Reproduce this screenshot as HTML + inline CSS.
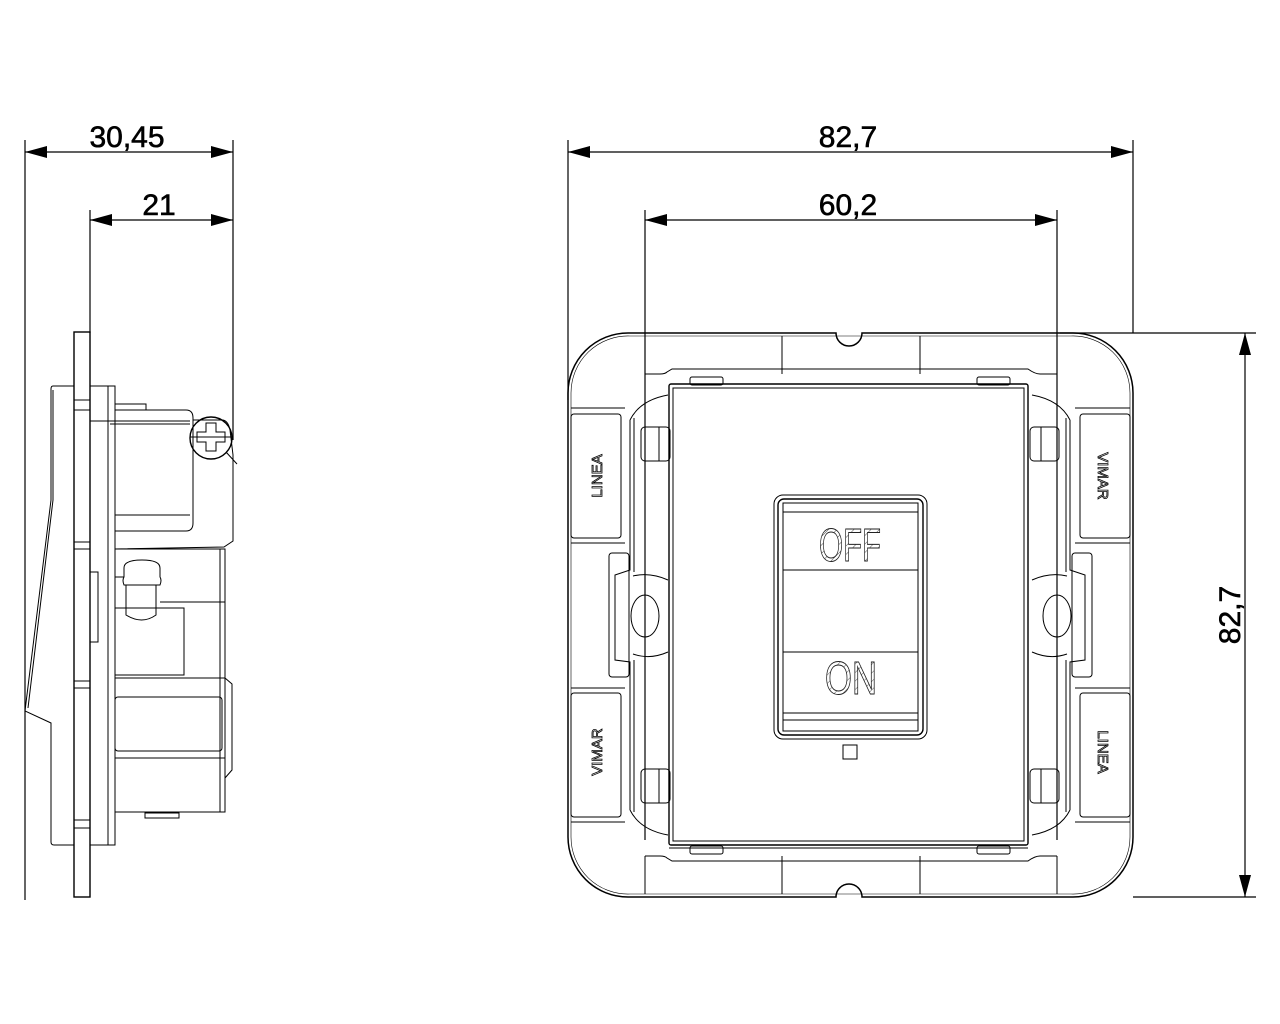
<!DOCTYPE html>
<html><head><meta charset="utf-8"><style>
html,body{margin:0;padding:0;background:#fff;width:1280px;height:1024px;overflow:hidden}
svg{display:block}
.d{font-family:"Liberation Sans Narrow","Liberation Sans",sans-serif;font-size:30px;fill:#000;stroke:#000;stroke-width:0.6}
.s{font-family:"Liberation Sans Narrow","Liberation Sans",sans-serif;font-size:15px;fill:#fff;stroke:#000;stroke-width:0.8}
.b{font-family:"Liberation Sans Narrow","Liberation Sans",sans-serif;font-size:46px;fill:url(#h);stroke:#222;stroke-width:1}
</style></head><body>
<svg width="1280" height="1024" viewBox="0 0 1280 1024" xmlns="http://www.w3.org/2000/svg">
<defs>
<pattern id="h" width="6" height="6" patternUnits="userSpaceOnUse" patternTransform="rotate(45)"><rect width="6" height="6" fill="#fff"/><line x1="0" y1="0" x2="0" y2="6" stroke="#555" stroke-width="1"/></pattern>
</defs>
<g fill="none" stroke="#000" stroke-width="1.2">
<line x1="25" y1="140" x2="25" y2="900"/>
<line x1="233" y1="140" x2="233" y2="440"/>
<line x1="90" y1="210" x2="90" y2="333"/>
<line x1="25" y1="152" x2="233" y2="152"/>
<line x1="90" y1="220" x2="233" y2="220"/>
<line x1="568" y1="140" x2="568" y2="400"/>
<line x1="1133" y1="140" x2="1133" y2="333"/>
<line x1="645" y1="210" x2="645" y2="840"/>
<line x1="1057" y1="210" x2="1057" y2="840"/>
<line x1="568" y1="152" x2="1133" y2="152"/>
<line x1="645" y1="220" x2="1057" y2="220"/>
<line x1="1060" y1="333" x2="1256" y2="333"/>
<line x1="1133" y1="897" x2="1256" y2="897"/>
<line x1="1245" y1="333" x2="1245" y2="897"/>
</g>
<g fill="#000">
<polygon points="25,152 47,146 47,158"/><polygon points="233,152 211,146 211,158"/>
<polygon points="90,220 112,214 112,226"/><polygon points="233,220 211,214 211,226"/>
<polygon points="568,152 590,146 590,158"/><polygon points="1133,152 1111,146 1111,158"/>
<polygon points="645,220 667,214 667,226"/><polygon points="1057,220 1035,214 1035,226"/>
<polygon points="1245,333 1239,355 1251,355"/><polygon points="1245,897 1239,875 1251,875"/>
</g>
<text class="d" x="127" y="147" text-anchor="middle">30,45</text>
<text class="d" x="159" y="215" text-anchor="middle">21</text>
<text class="d" x="848" y="147" text-anchor="middle">82,7</text>
<text class="d" x="848" y="215" text-anchor="middle">60,2</text>
<text class="d" x="0" y="0" text-anchor="middle" transform="translate(1240,615) rotate(-90)">82,7</text>

<g fill="none" stroke="#000" stroke-width="1">
<rect x="74" y="332" width="16" height="565" stroke-width="1.4"/>
<line x1="74" y1="400" x2="90" y2="400"/><line x1="74" y1="410" x2="90" y2="410"/>
<line x1="74" y1="542" x2="90" y2="542"/><line x1="74" y1="549" x2="90" y2="549"/>
<line x1="74" y1="681" x2="90" y2="681"/><line x1="74" y1="688" x2="90" y2="688"/>
<line x1="74" y1="820" x2="90" y2="820"/><line x1="74" y1="828" x2="90" y2="828"/>
<path d="M74,386 L53,386 Q51,386 51,389 L51,500 L25,711 L51,723 L51,842 Q51,845 54,845 L74,845"/>
<path d="M53,390 L53,500 L28,708"/>
<rect x="90" y="386" width="18" height="459"/>
<rect x="108" y="386" width="7" height="459"/>
<rect x="90" y="572" width="8" height="70"/>
<path d="M115,410 L186,410 Q193,410 193,418 L193,523 Q193,531 186,531 L115,531"/>
<path d="M115,404 L146,404 L146,410"/>
<line x1="90" y1="421" x2="190" y2="421"/><line x1="110" y1="424" x2="190" y2="424"/>
<path d="M115,515 L190,515"/>
<path d="M193,420 L222,420 Q228,420 230,430 L233,455 L233,541 L224,547 L115,549"/>
<circle cx="211" cy="438" r="21" stroke-width="1.4"/>
<path d="M206,423 h10 v9 h9 v10 h-9 v9 h-10 v-9 h-9 v-10 h9 z"/>
<line x1="190" y1="437" x2="232" y2="437"/>
<line x1="226" y1="452" x2="237" y2="464"/>
<path d="M115,549 L225,549 L225,812 L115,812"/>
<path d="M220,549 L220,812"/>
<line x1="160" y1="602" x2="225" y2="602"/>
<rect x="115" y="608" width="69" height="67"/>
<path d="M124,568 Q124,560 142,560 Q160,560 160,568 L160,577 Q162,580 160,585 L124,585 Q122,580 124,577 Z"/>
<path d="M126,585 L126,615 Q142,625 156,615 L156,585"/>
<line x1="115" y1="577" x2="124" y2="577"/>
<path d="M115,678 L225,678 L232,684 L232,770 L225,778"/>
<rect x="115" y="697" width="107" height="54" rx="3"/>
<line x1="115" y1="758" x2="225" y2="758"/>
<rect x="145" y="813" width="34" height="5"/>
</g>

<g fill="none" stroke="#000" stroke-width="1">
<path d="M628,333 L836,333 A13,13 0 0 0 862,333 L1073,333 A60,60 0 0 1 1133,393 L1133,837 A60,60 0 0 1 1073,897 L862,897 A13,13 0 0 0 836,897 L628,897 A60,60 0 0 1 568,837 L568,393 A60,60 0 0 1 628,333 Z" stroke-width="1.5"/>
<path d="M630,336 L1071,336 A57,57 0 0 1 1130,393 L1130,837 A57,57 0 0 1 1071,894 L630,894 A57,57 0 0 1 571,837 L571,393 A57,57 0 0 1 630,336 Z" stroke-width="0.6"/>
<line x1="645" y1="336" x2="645" y2="374"/><line x1="782" y1="336" x2="782" y2="374"/><line x1="920" y1="336" x2="920" y2="374"/><line x1="1057" y1="336" x2="1057" y2="374"/>
<line x1="645" y1="856" x2="645" y2="894"/><line x1="782" y1="856" x2="782" y2="894"/><line x1="920" y1="856" x2="920" y2="894"/><line x1="1057" y1="856" x2="1057" y2="894"/>
<path d="M645,374 L660,374 Q665,374 667,372 L672,369 L1028,369 Q1035,374 1040,374 L1057,374"/>
<path d="M645,856 L660,856 Q665,856 667,858 L672,861 L1028,861 Q1035,856 1040,856 L1057,856"/>
<line x1="571" y1="408" x2="625" y2="408"/><line x1="571" y1="543" x2="625" y2="543"/>
<line x1="571" y1="688" x2="625" y2="688"/><line x1="571" y1="822" x2="625" y2="822"/>
<line x1="1075" y1="408" x2="1130" y2="408"/><line x1="1075" y1="543" x2="1130" y2="543"/>
<line x1="1075" y1="688" x2="1130" y2="688"/><line x1="1075" y1="822" x2="1130" y2="822"/>
<rect x="571" y="414" width="50" height="124" rx="3"/><rect x="1080" y="414" width="50" height="124" rx="3"/>
<rect x="571" y="693" width="50" height="124" rx="3"/><rect x="1080" y="693" width="50" height="124" rx="3"/>
<rect x="609" y="553" width="20" height="124" rx="3"/><rect x="1072" y="553" width="20" height="124" rx="3"/>
<path d="M630,420 L630,570 L615,575 L615,660 L630,662 L630,810"/>
<path d="M634,418 L634,572 M634,660 L634,812"/>
<path d="M1070,420 L1070,570 L1085,575 L1085,660 L1070,662 L1070,810"/>
<path d="M1066,418 L1066,572 M1066,660 L1066,812"/>
<path d="M630,420 Q640,400 668,395"/><path d="M1070,420 Q1060,400 1032,395"/>
<path d="M630,810 Q640,830 668,835"/><path d="M1070,810 Q1060,830 1032,835"/>
<path d="M633,576 Q650,572 668,580 M633,654 Q650,660 668,652"/>
<path d="M1067,576 Q1050,572 1032,580 M1067,654 Q1050,660 1032,652"/>
<ellipse cx="645" cy="616" rx="14" ry="21"/><ellipse cx="1057" cy="616" rx="14" ry="21"/>
<rect x="641" y="427" width="29" height="34" rx="4"/><line x1="659" y1="427" x2="659" y2="461"/>
<rect x="1030" y="427" width="29" height="34" rx="4"/><line x1="1041" y1="427" x2="1041" y2="461"/>
<rect x="641" y="769" width="29" height="34" rx="4"/><line x1="659" y1="769" x2="659" y2="803"/>
<rect x="1030" y="769" width="29" height="34" rx="4"/><line x1="1041" y1="769" x2="1041" y2="803"/>
<rect x="690" y="377" width="33" height="8" rx="2"/><rect x="977" y="377" width="33" height="8" rx="2"/>
<rect x="690" y="846" width="33" height="8" rx="2"/><rect x="977" y="846" width="33" height="8" rx="2"/>
<rect x="669" y="384" width="359" height="461" rx="2" stroke-width="1.4"/>
<rect x="673" y="388" width="351" height="453"/>
<line x1="669" y1="848" x2="1028" y2="848"/>
<rect x="774" y="495" width="153" height="244" rx="9"/>
<rect x="778" y="499" width="145" height="236" rx="6" stroke-width="1.4"/>
<rect x="783" y="503" width="135" height="228"/>
<line x1="783" y1="512" x2="918" y2="512"/>
<line x1="783" y1="570" x2="918" y2="570"/>
<line x1="783" y1="652" x2="918" y2="652"/>
<line x1="783" y1="713" x2="918" y2="713"/>
<line x1="783" y1="720" x2="918" y2="720"/>
<rect x="843" y="745" width="14" height="14"/>
</g>
<text class="b" x="850" y="561" text-anchor="middle" textLength="62" lengthAdjust="spacingAndGlyphs">OFF</text>
<text class="b" x="851" y="694" text-anchor="middle" textLength="52" lengthAdjust="spacingAndGlyphs">ON</text>
<text class="s" transform="translate(602,476) rotate(-90)" text-anchor="middle">LINEA</text>
<text class="s" transform="translate(602,752) rotate(-90)" text-anchor="middle">VIMAR</text>
<text class="s" transform="translate(1098,476) rotate(90)" text-anchor="middle">VIMAR</text>
<text class="s" transform="translate(1098,752) rotate(90)" text-anchor="middle">LINEA</text>
</svg>
</body></html>
